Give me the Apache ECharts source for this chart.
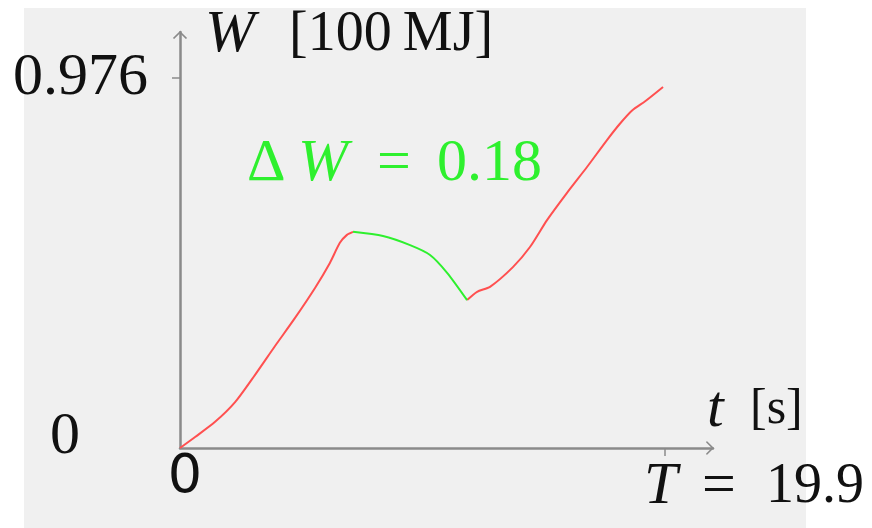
<!DOCTYPE html>
<html><head><meta charset="utf-8">
<script src="https://cdn.jsdelivr.net/npm/echarts@6/dist/echarts.min.js"></script>
<style>html,body{margin:0;padding:0;background:#fff}#c{width:872px;height:528px}</style>
</head><body><div id="c"></div>
<script>
// data
const timeS = [0, 0.62, 1.44, 2.26, 3.08, 3.90, 4.72, 5.54, 6.15, 6.56, 6.85, 7.10, 8.33, 9.44, 10.26, 10.96, 11.78, 12.19, 12.72, 13.66, 14.36, 15.06, 15.88, 16.70, 17.52, 18.05, 18.55, 19.10, 19.82];
const workW = [0, 0.029, 0.069, 0.121, 0.193, 0.269, 0.343, 0.422, 0.488, 0.541, 0.562, 0.570, 0.559, 0.535, 0.509, 0.462, 0.390, 0.412, 0.425, 0.477, 0.530, 0.601, 0.673, 0.741, 0.812, 0.855, 0.890, 0.915, 0.952];
const dropStart = 11;  // index where the green (drop) part begins
const dropEnd = 16;    // index where it ends
const yTickValue = 0.976;
const xTickValue = 19.9;
const xMax = 21.87, yMax = 1.097;

const pts = timeS.map((t, i) => [t, workW[i]]);
const red = '#ff5050', green = '#2ef02e';
const serif = "'Liberation Serif', 'DejaVu Serif', serif";
const FS = 60;

const chart = echarts.init(document.getElementById('c'), null, {renderer: 'canvas'});
const axisLineStyle = {color: '#8a8a8a', width: 2.5};
const chevron = 'path://M0,8 L8,0 L16,8 L14.6,9 L8,2.6 L1.4,9 Z';
chart.setOption({
  backgroundColor: '#ffffff',
  animation: false,
  grid: {left: 180, top: 32, right: 159, bottom: 80, containLabel: false},
  xAxis: {
    type: 'value', min: 0, max: xMax,
    axisLine: {show: true, lineStyle: axisLineStyle, symbol: ['none', chevron], symbolSize: [16, 8], symbolOffset: [0, -3]},
    axisTick: {show: true, customValues: [xTickValue], length: 8, lineStyle: {color: '#8a8a8a', width: 1.5}},
    axisLabel: {show: false},
    splitLine: {show: false}
  },
  yAxis: {
    type: 'value', min: 0, max: yMax,
    axisLine: {show: true, lineStyle: axisLineStyle, symbol: ['none', chevron], symbolSize: [16, 8], symbolOffset: [0, -3]},
    axisTick: {show: true, customValues: [yTickValue], length: 8, lineStyle: {color: '#8a8a8a', width: 1.5}},
    axisLabel: {show: false},
    splitLine: {show: false}
  },
  series: [
    {type: 'line', data: pts.slice(0, dropStart + 1), showSymbol: false, smooth: 0.25, lineStyle: {color: red, width: 2}, z: 3},
    {type: 'line', data: pts.slice(dropStart, dropEnd + 1), showSymbol: false, smooth: 0.25, lineStyle: {color: green, width: 2}, z: 4},
    {type: 'line', data: pts.slice(dropEnd), showSymbol: false, smooth: 0.25, lineStyle: {color: red, width: 2}, z: 3}
  ]
});

const P = (x, y) => chart.convertToPixel({gridIndex: 0}, [x, y]);
const o = P(0, 0);
const yt = P(0, yTickValue);
const xt = P(xTickValue, 0);
const xe = P(xMax, 0);
const ye = P(0, yMax);
const dW = (workW[dropStart] - workW[dropEnd]).toFixed(2);
const lbl = P(2.75, 0.747);
const txt = (x, y, text, align, extra) => ({
  type: 'text', x, y, z: 10,
  style: Object.assign({text, align, verticalAlign: 'middle', fill: '#111', fontFamily: serif, fontSize: FS}, extra || {})
});
const rich = (col, w, rs) => {
  w = w || {};
  return {
    i: {fontFamily: serif, fontSize: FS, fontStyle: 'italic', fill: col, width: w.i},
    d: {fontFamily: serif, fontSize: FS, fill: col, width: w.d},
    e: {fontFamily: serif, fontSize: FS, fill: col, width: w.e},
    r: {fontFamily: serif, fontSize: rs || FS, fill: col}
  };
};
chart.setOption({
  graphic: [
    {type: 'rect', shape: {x: 24, y: 8, width: 782, height: 520}, style: {fill: '#f0f0f0'}, z: -10, silent: true},
    txt(yt[0] - 32, yt[1], '0.976', 'right'),
    txt(o[0] - 100, o[1] - 11, '0', 'right'),
    txt(o[0] + 5, o[1] + 30, '0', 'center', {fontFamily: 'DejaVu Sans', fontSize: 54}),
    txt(xt[0] - 21, o[1] + 39, '{i|T}{e|=}{r|19.9}', 'left', {rich: rich('#111', {i: 58, e: 64}, 56)}),
    txt(ye[0] + 25, ye[1] + 3, '{i|W}{r|[100\u2009MJ]}', 'left', {rich: rich('#111', {i: 84}, 56)}),
    txt(xe[0] - 6, o[1] - 38, '{i|t}{r|[s]}', 'left', {rich: rich('#111', {i: 43}, 50)}),
    txt(lbl[0], lbl[1], '{d|\u0394}{i|W}{e|=}{r|' + dW + '}', 'left', {rich: rich(green, {d: 51, i: 79, e: 60}), fill: green})
  ]
});
</script>
</body></html>
